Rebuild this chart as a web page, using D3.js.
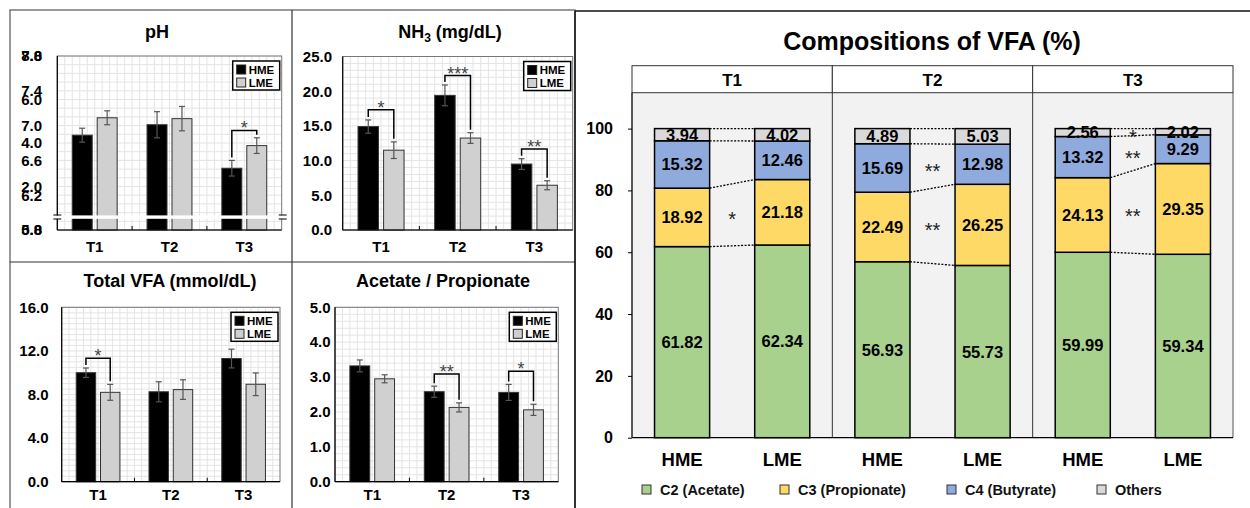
<!DOCTYPE html>
<html>
<head>
<meta charset="utf-8">
<script src="https://cdnjs.cloudflare.com/ajax/libs/d3/7.8.5/d3.min.js"></script>
<style>
body { margin: 0; background: #fff; }
text { font-family: "Liberation Sans", Arial, sans-serif; }
</style>
</head>
<body>
<div id="chart"></div>
<script>
var groups = ["T1", "T2", "T3"];
var diets = ["HME", "LME"];

// pH (the source figure prints two tick sets on top of each other)
var phHME = [6.89, 7.01, 6.51];
var phLME = [7.09, 7.08, 6.77];
var phHMEse = [0.08, 0.15, 0.09];
var phLMEse = [0.08, 0.14, 0.09];
var phTicksA = [0, 2, 4, 6, 8];
var phTicksB = [5.8, 6.2, 6.6, 7.0, 7.4, 7.8];

// NH3 (mg/dL)
var nh3HME = [14.9, 19.4, 9.5];
var nh3LME = [11.5, 13.25, 6.45];
var nh3HMEse = [0.96, 1.5, 0.77];
var nh3LMEse = [1.2, 0.77, 0.65];
var nh3Ticks = [0, 5, 10, 15, 20, 25];

// Total VFA (mmol/dL)
var vfaHME = [10.0, 8.25, 11.3];
var vfaLME = [8.2, 8.45, 8.94];
var vfaHMEse = [0.43, 0.92, 0.86];
var vfaLMEse = [0.73, 0.9, 1.04];
var vfaTicks = [0, 4, 8, 12, 16];

// Acetate / Propionate
var apHME = [3.32, 2.58, 2.56];
var apLME = [2.95, 2.13, 2.06];
var apHMEse = [0.17, 0.16, 0.23];
var apLMEse = [0.115, 0.13, 0.16];
var apTicks = [0, 1, 2, 3, 4, 5];

// significance brackets: [group index, bracket level, stars]
var phSig = [[2, 6.945, "*"]];
var nh3Sig = [[0, 17.34, "*"], [1, 22.25, "***"], [2, 11.66, "**"]];
var vfaSig = [[0, 11.32, "*"]];
var apSig = [[1, 3.09, "**"], [2, 3.17, "*"]];

// VFA composition (%), order: T1 HME, T1 LME, T2 HME, T2 LME, T3 HME, T3 LME
var acidKeys = ["c2", "c3", "c4", "oth"];
var acidNames = ["C2 (Acetate)", "C3 (Propionate)", "C4 (Butyrate)", "Others"];
var acidColors = ["#a9d18e", "#ffd966", "#8faadc", "#d9d9d9"];
var c2Pct = [61.82, 62.34, 56.93, 55.73, 59.99, 59.34];
var c3Pct = [18.92, 21.18, 22.49, 26.25, 24.13, 29.35];
var c4Pct = [15.32, 12.46, 15.69, 12.98, 13.32, 9.29];
var othPct = [3.94, 4.02, 4.89, 5.03, 2.56, 2.02];
var compTicks = [0, 20, 40, 60, 80, 100];
// stars between HME and LME stacks: [group index, acid index, stars]
var compSig = [[0, 1, "*"], [1, 1, "**"], [1, 2, "**"], [2, 1, "**"], [2, 2, "**"], [2, 3, "*"]];

var W = 1250, H = 508;
var svg = d3.select("#chart").append("svg").attr("width", W).attr("height", H);

// panel frames
svg.append("rect").attr("x", 10).attr("y", 10).attr("width", 565).attr("height", 520)
	.attr("fill", "none").attr("stroke", "#555").attr("stroke-width", 1.2);
svg.append("line").attr("x1", 292).attr("x2", 292).attr("y1", 10).attr("y2", H)
	.attr("stroke", "#333").attr("stroke-width", 1.2);
svg.append("line").attr("x1", 10).attr("x2", 575).attr("y1", 262).attr("y2", 262)
	.attr("stroke", "#333").attr("stroke-width", 1.2);
svg.append("line").attr("x1", 575).attr("x2", W).attr("y1", 11).attr("y2", 11)
	.attr("stroke", "#111").attr("stroke-width", 1.5);
svg.append("line").attr("x1", 575).attr("x2", 575).attr("y1", 11).attr("y2", H)
	.attr("stroke", "#111").attr("stroke-width", 1.5);

function barPanel(o) {
	var g = svg.append("g");
	var x = d3.scaleBand().domain(groups).range([o.x0, o.x1]);
	var xi = d3.scaleBand().domain(diets)
		.range([0.2 * x.bandwidth(), 0.8 * x.bandwidth()]).paddingInner(0.2);
	var y = d3.scaleLinear().domain(o.domain).range([o.y1, o.y0]);
	var bw = xi.bandwidth();

	// fine grid
	var grid = g.append("g").attr("stroke", "#e4e4e4").attr("stroke-width", 1);
	grid.selectAll(".gy").data(d3.ticks(o.domain[0], o.domain[1], 25)).join("line")
		.attr("class", "gy")
		.attr("x1", o.x0).attr("x2", o.x1)
		.attr("y1", d => y(d)).attr("y2", d => y(d));
	var gx = d3.scaleLinear().domain([0, 30]).range([o.x0, o.x1]);
	grid.selectAll(".gx").data(d3.range(1, 30)).join("line")
		.attr("class", "gx")
		.attr("x1", d => gx(d)).attr("x2", d => gx(d))
		.attr("y1", o.y0).attr("y2", o.y1);

	g.append("rect").attr("x", o.x0).attr("y", o.y0)
		.attr("width", o.x1 - o.x0).attr("height", o.y1 - o.y0)
		.attr("fill", "none").attr("stroke", "#777").attr("stroke-width", 1);

	var rows = groups.map((t, i) => ({
		t: t,
		bars: [
			{ k: "HME", v: o.hme[i], se: o.hmeSe[i] },
			{ k: "LME", v: o.lme[i], se: o.lmeSe[i] }
		]
	}));

	var cat = g.selectAll(".cat").data(rows).join("g")
		.attr("class", "cat")
		.attr("transform", d => `translate(${x(d.t)},0)`);

	cat.selectAll("rect").data(d => d.bars).join("rect")
		.attr("x", d => xi(d.k))
		.attr("width", bw)
		.attr("y", d => y(d.v))
		.attr("height", d => y(o.domain[0]) - y(d.v))
		.attr("fill", d => d.k === "HME" ? "#000" : "#d0d0d0")
		.attr("stroke", "#333").attr("stroke-width", 1);

	var eb = cat.selectAll(".eb").data(d => d.bars).join("g").attr("class", "eb")
		.attr("stroke", "#555").attr("stroke-width", 1.2);
	eb.append("line")
		.attr("x1", d => xi(d.k) + bw / 2).attr("x2", d => xi(d.k) + bw / 2)
		.attr("y1", d => y(d.v - d.se)).attr("y2", d => y(d.v + d.se));
	eb.append("line")
		.attr("x1", d => xi(d.k) + bw / 2 - 3).attr("x2", d => xi(d.k) + bw / 2 + 3)
		.attr("y1", d => y(d.v + d.se)).attr("y2", d => y(d.v + d.se));
	eb.append("line")
		.attr("x1", d => xi(d.k) + bw / 2 - 3).attr("x2", d => xi(d.k) + bw / 2 + 3)
		.attr("y1", d => y(d.v - d.se)).attr("y2", d => y(d.v - d.se));

	// axes lines
	g.append("line").attr("x1", o.x0).attr("x2", o.x0).attr("y1", o.y0).attr("y2", o.y1)
		.attr("stroke", "#000").attr("stroke-width", 1.2);
	g.append("line").attr("x1", o.x0).attr("x2", o.x1).attr("y1", o.y1).attr("y2", o.y1)
		.attr("stroke", "#000").attr("stroke-width", 1.2);
	g.selectAll(".ct").data(groups.slice(1)).join("line").attr("class", "ct")
		.attr("x1", d => x(d)).attr("x2", d => x(d))
		.attr("y1", o.y1).attr("y2", o.y1 - 4)
		.attr("stroke", "#000");

	// axis break (pH)
	if (o.brk) {
		g.append("rect").attr("x", o.x0 - 5).attr("y", o.brk - 1.6)
			.attr("width", o.x1 - o.x0 + 10).attr("height", 3.4).attr("fill", "#fff");
		[o.x0, o.x1 + 1].forEach(function(bx) {
			[o.brk - 2, o.brk + 2].forEach(function(by) {
				g.append("line").attr("x1", bx - 4).attr("x2", bx + 4)
					.attr("y1", by).attr("y2", by).attr("stroke", "#000").attr("stroke-width", 1);
			});
		});
	}

	// significance brackets
	o.sig.forEach(function(s) {
		var r = rows[s[0]];
		var xl = x(r.t) + xi("HME") + bw / 2;
		var xr = x(r.t) + xi("LME") + bw / 2;
		var yb = y(s[1]);
		var yl = y(r.bars[0].v + r.bars[0].se) - 3;
		var yr = y(r.bars[1].v + r.bars[1].se) - 3;
		g.append("path")
			.attr("d", `M${xl},${yl}V${yb}H${xr}V${yr}`)
			.attr("fill", "none").attr("stroke", "#000").attr("stroke-width", 1.5);
		g.append("text").attr("x", (xl + xr) / 2).attr("y", yb + 4)
			.attr("text-anchor", "middle").attr("font-size", 18).attr("fill", "#444")
			.text(s[2]);
	});

	// legend
	var lg = g.append("g").attr("transform", `translate(${o.x1 - 49},${o.y0 + 5})`);
	lg.append("rect").attr("width", 47).attr("height", 29)
		.attr("fill", "#fff").attr("stroke", "#000").attr("stroke-width", 1.5);
	diets.forEach(function(k, j) {
		lg.append("rect").attr("x", 4).attr("y", 4 + j * 13).attr("width", 9).attr("height", 9)
			.attr("fill", j === 0 ? "#000" : "#d0d0d0").attr("stroke", "#222");
		lg.append("text").attr("x", 16).attr("y", 12.5 + j * 13)
			.attr("font-size", 11.5).attr("font-weight", "bold").text(k);
	});

	// tick labels
	var ya = g.append("g").attr("transform", `translate(${o.labelX},0)`);
	o.tickSets.forEach(function(ts) {
		var s = d3.scaleLinear().domain(ts.domain).range([o.y1, o.y0]);
		ya.append("g").call(d3.axisLeft(s).tickValues(ts.values)
			.tickSize(0).tickPadding(0).tickFormat(d3.format(".1f")));
	});
	ya.selectAll(".domain").remove();
	ya.selectAll("text").attr("font-size", 15).attr("font-weight", "bold").attr("fill", "#000");

	var xa = g.append("g").attr("transform", `translate(0,${o.xLabelY})`)
		.call(d3.axisBottom(x).tickSize(0).tickPadding(0));
	xa.select(".domain").remove();
	xa.selectAll("text").attr("y", 0).attr("dy", 0)
		.attr("font-size", 15).attr("font-weight", "bold").attr("fill", "#000");

	// title
	var tt = g.append("text").attr("x", o.titleX).attr("y", o.titleY)
		.attr("text-anchor", "middle").attr("font-size", 18).attr("font-weight", "bold");
	o.title.forEach(function(p) {
		var ts = tt.append("tspan").text(p[0]);
		if (p[1]) ts.attr("font-size", 12).attr("dy", 4);
		else if (p[2]) ts.attr("dy", -4);
	});
}

barPanel({
	x0: 57.3, x1: 281.7, y0: 56, y1: 230, domain: [5.8, 7.8],
	tickSets: [{ domain: [0, 8], values: phTicksA }, { domain: [5.8, 7.8], values: phTicksB }],
	hme: phHME, lme: phLME, hmeSe: phHMEse, lmeSe: phLMEse, sig: phSig,
	labelX: 42, xLabelY: 252, brk: 217,
	title: [["pH"]], titleX: 157, titleY: 38
});
barPanel({
	x0: 342.7, x1: 572.7, y0: 56.5, y1: 230, domain: [0, 25],
	tickSets: [{ domain: [0, 25], values: nh3Ticks }],
	hme: nh3HME, lme: nh3LME, hmeSe: nh3HMEse, lmeSe: nh3LMEse, sig: nh3Sig,
	labelX: 332, xLabelY: 252,
	title: [["NH"], ["3", true], [" (mg/dL)", false, true]], titleX: 450, titleY: 38
});
barPanel({
	x0: 61.7, x1: 280, y0: 307.3, y1: 481.7, domain: [0, 16],
	tickSets: [{ domain: [0, 16], values: vfaTicks }],
	hme: vfaHME, lme: vfaLME, hmeSe: vfaHMEse, lmeSe: vfaLMEse, sig: vfaSig,
	labelX: 48.5, xLabelY: 500,
	title: [["Total VFA (mmol/dL)"]], titleX: 170, titleY: 287
});
barPanel({
	x0: 335, x1: 558.3, y0: 307.3, y1: 481.7, domain: [0, 5],
	tickSets: [{ domain: [0, 5], values: apTicks }],
	hme: apHME, lme: apLME, hmeSe: apHMEse, lmeSe: apLMEse, sig: apSig,
	labelX: 330.5, xLabelY: 500,
	title: [["Acetate / Propionate"]], titleX: 443, titleY: 287
});

// ---- Compositions of VFA (%) ----
var cg = svg.append("g");
var fx = d3.scaleBand().domain(groups).range([632, 1233]);
var bx = d3.scaleBand().domain(diets).range([0, fx.bandwidth()])
	.paddingInner(0.45).paddingOuter(0.225);
var cy = d3.scaleLinear().domain([0, 100]).range([437.7, 128.6]);
var stripTop = 65.7, panelTop = 92.7;
var cbw = bx.bandwidth();

cg.append("text").attr("x", 932).attr("y", 50).attr("text-anchor", "middle")
	.attr("font-size", 25).attr("font-weight", "bold").text("Compositions of VFA (%)");

cg.selectAll(".facet").data(groups).join("rect").attr("class", "facet")
	.attr("x", d => fx(d)).attr("y", panelTop)
	.attr("width", fx.bandwidth()).attr("height", cy(0) - panelTop)
	.attr("fill", "#f2f2f2");
cg.selectAll(".strip").data(groups).join("rect").attr("class", "strip")
	.attr("x", d => fx(d)).attr("y", stripTop)
	.attr("width", fx.bandwidth()).attr("height", panelTop - stripTop)
	.attr("fill", "#fff").attr("stroke", "#333").attr("stroke-width", 1);
cg.selectAll(".strip-t").data(groups).join("text").attr("class", "strip-t")
	.attr("x", d => fx(d) + fx.bandwidth() / 2).attr("y", 86)
	.attr("text-anchor", "middle").attr("font-size", 17).attr("font-weight", "bold")
	.text(d => d);
cg.selectAll(".fsep").data(groups.slice(1)).join("line").attr("class", "fsep")
	.attr("x1", d => fx(d)).attr("x2", d => fx(d))
	.attr("y1", panelTop).attr("y2", cy(0))
	.attr("stroke", "#333").attr("stroke-width", 1);
cg.append("line").attr("x1", fx.range()[1]).attr("x2", fx.range()[1])
	.attr("y1", panelTop).attr("y2", cy(0)).attr("stroke", "#555");

var compRows = d3.range(6).map(i => ({
	group: groups[Math.floor(i / 2)], diet: diets[i % 2],
	c2: c2Pct[i], c3: c3Pct[i], c4: c4Pct[i], oth: othPct[i]
}));
var series = d3.stack().keys(acidKeys)(compRows);

// dotted connectors between stacks
groups.forEach(function(t, gi) {
	series.forEach(function(s) {
		var a = s[gi * 2], b = s[gi * 2 + 1];
		cg.append("line")
			.attr("x1", fx(t) + bx("HME") + cbw).attr("x2", fx(t) + bx("LME"))
			.attr("y1", cy(a[1])).attr("y2", cy(b[1]))
			.attr("stroke", "#000").attr("stroke-width", 1.3)
			.attr("stroke-dasharray", "2,1.5");
	});
});

var layer = cg.selectAll(".layer").data(series).join("g").attr("class", "layer")
	.attr("fill", (d, k) => acidColors[k]);
layer.selectAll("rect").data(d => d).join("rect")
	.attr("x", d => fx(d.data.group) + bx(d.data.diet))
	.attr("width", cbw)
	.attr("y", d => cy(d[1]))
	.attr("height", d => cy(d[0]) - cy(d[1]))
	.attr("stroke", "#000").attr("stroke-width", 1.5);
layer.selectAll("text").data(d => d.map(p => ({ p: p, key: d.key }))).join("text")
	.attr("x", d => fx(d.p.data.group) + bx(d.p.data.diet) + cbw / 2)
	.attr("y", d => (cy(d.p[0]) + cy(d.p[1])) / 2)
	.attr("dy", "0.36em")
	.attr("text-anchor", "middle").attr("font-size", 16.5).attr("font-weight", "bold")
	.attr("fill", "#000")
	.text(d => d.p.data[d.key].toFixed(2));

compSig.forEach(function(s) {
	var a = series[s[1]][s[0] * 2], b = series[s[1]][s[0] * 2 + 1];
	var yc = (cy((a[0] + a[1]) / 2) + cy((b[0] + b[1]) / 2)) / 2;
	cg.append("text").attr("x", fx(groups[s[0]]) + fx.bandwidth() / 2).attr("y", yc + 11.5)
		.attr("text-anchor", "middle").attr("font-size", 20).attr("fill", "#222")
		.text(s[2]);
});

// axes
var cya = cg.append("g").attr("transform", "translate(632,0)")
	.call(d3.axisLeft(cy).tickValues(compTicks).tickSize(4).tickPadding(15));
cya.select(".domain").remove();
cya.selectAll("line").attr("stroke", "#000");
cya.selectAll("text").attr("font-size", 16).attr("font-weight", "bold").attr("fill", "#000");
cg.append("line").attr("x1", 632).attr("x2", 632).attr("y1", panelTop).attr("y2", cy(0))
	.attr("stroke", "#000").attr("stroke-width", 1.3);
cg.append("line").attr("x1", 632).attr("x2", fx.range()[1]).attr("y1", cy(0)).attr("y2", cy(0))
	.attr("stroke", "#000").attr("stroke-width", 1.3);

cg.selectAll(".dl").data(compRows).join("text").attr("class", "dl")
	.attr("x", d => fx(d.group) + bx(d.diet) + cbw / 2).attr("y", 466)
	.attr("text-anchor", "middle").attr("font-size", 18.5).attr("font-weight", "bold")
	.text(d => d.diet);

// legend
var legX = [642, 780, 947, 1097];
acidNames.forEach(function(n, k) {
	cg.append("rect").attr("x", legX[k]).attr("y", 485).attr("width", 9).attr("height", 9)
		.attr("fill", acidColors[k]).attr("stroke", "#333").attr("stroke-width", 1);
	cg.append("text").attr("x", legX[k] + 18).attr("y", 495)
		.attr("font-size", 14.5).attr("font-weight", "bold").attr("fill", "#111").text(n);
});
</script>
</body>
</html>
